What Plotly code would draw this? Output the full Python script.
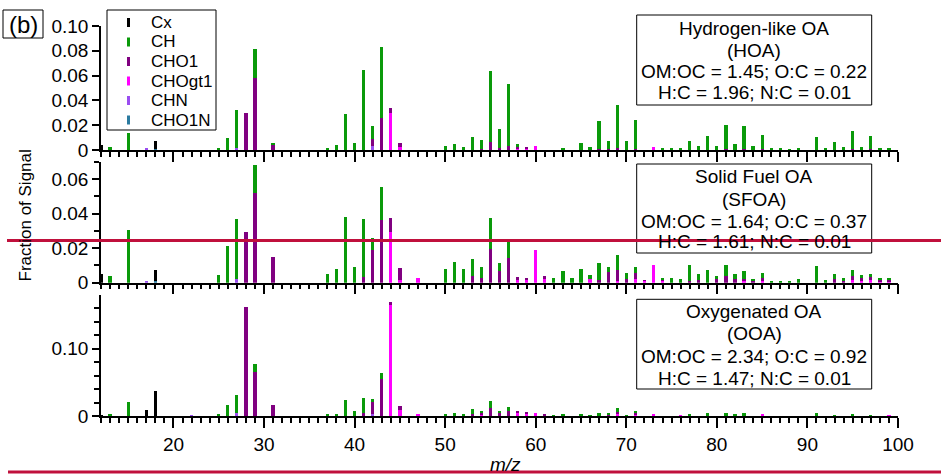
import plotly.graph_objects as go

# ---------------- data ----------------
MZ = list(range(12, 101))
CATEGORIES = ["CHO1N", "CHN", "CHOgt1", "CHO1", "CH", "Cx"]  # stacking order bottom -> top
COLORS = {"Cx": "#000000", "CH": "#0A9A0A", "CHO1": "#800080", "CHOgt1": "#FF00FF",
          "CHN": "#9A4DF0", "CHO1N": "#2B7BA0"}
LEGEND_ORDER = ["Cx", "CH", "CHO1", "CHOgt1", "CHN", "CHO1N"]

# HOA
HOA_Cx = {12: 0.004, 18: 0.0065}
HOA_CH = {13: 0.0025, 15: 0.0135, 25: 0.001, 26: 0.0094, 27: 0.030, 29: 0.0235, 31: 0.002,
          37: 0.0016, 38: 0.004, 39: 0.0288, 40: 0.006, 41: 0.0645, 42: 0.0107, 43: 0.0568,
          50: 0.0035, 51: 0.0048, 52: 0.0025, 53: 0.0105, 54: 0.0075, 55: 0.057, 56: 0.0147,
          57: 0.0497, 58: 0.002, 63: 0.002, 65: 0.0054, 66: 0.0025, 67: 0.0225, 68: 0.0065,
          69: 0.035, 70: 0.0075, 71: 0.023, 74: 0.001, 75: 0.001, 76: 0.001, 77: 0.007,
          78: 0.003, 79: 0.0115, 80: 0.003, 81: 0.019, 82: 0.005, 83: 0.018, 84: 0.003,
          85: 0.0115, 86: 0.001, 87: 0.001, 88: 0.0008, 89: 0.001, 91: 0.0105, 92: 0.002,
          93: 0.0065, 94: 0.0025, 95: 0.015, 96: 0.0025, 97: 0.0108, 98: 0.0017, 99: 0.002}
HOA_CHO1 = {28: 0.030, 29: 0.058, 31: 0.004, 42: 0.0054, 43: 0.026, 44: 0.004, 45: 0.0027,
            54: 0.0008, 55: 0.0067, 56: 0.002, 57: 0.0035, 58: 0.0015, 59: 0.0012, 67: 0.0012,
            68: 0.001, 69: 0.0016, 71: 0.0012, 81: 0.0009, 83: 0.001, 85: 0.0006, 95: 0.0006,
            97: 0.0005}
HOA_CHOgt1 = {44: 0.0296, 45: 0.0027, 58: 0.001, 59: 0.001, 60: 0.003, 73: 0.0027}
HOA_CHN = {17: 0.0012, 27: 0.002, 42: 0.0035}
HOA_CHO1N = {18: 0.0008}

# SFOA
SFOA_Cx = {12: 0.005, 18: 0.0065}
SFOA_CH = {13: 0.0039, 15: 0.0306, 25: 0.0045, 26: 0.0213, 27: 0.0348, 29: 0.0164, 37: 0.0049,
           38: 0.008, 39: 0.0381, 40: 0.0089, 41: 0.0337, 42: 0.0068, 43: 0.019, 50: 0.008,
           51: 0.0122, 52: 0.008, 53: 0.0097, 54: 0.0061, 55: 0.0179, 56: 0.0043, 57: 0.0107,
           62: 0.0025, 63: 0.007, 64: 0.0025, 65: 0.008, 66: 0.0025, 67: 0.0095, 68: 0.0029,
           69: 0.0086, 70: 0.0035, 71: 0.0035, 74: 0.0015, 75: 0.0025, 76: 0.0022, 77: 0.0095,
           78: 0.0035, 79: 0.0075, 80: 0.002, 81: 0.0063, 82: 0.0025, 83: 0.0045, 84: 0.0015,
           85: 0.003, 86: 0.0008, 87: 0.0012, 88: 0.0008, 89: 0.002, 91: 0.0095, 92: 0.0018,
           93: 0.0025, 94: 0.0018, 95: 0.0034, 96: 0.0018, 97: 0.0016, 98: 0.0012, 99: 0.0012}
SFOA_CHO1 = {28: 0.0296, 29: 0.0519, 31: 0.0151, 41: 0.0031, 42: 0.019, 43: 0.0364, 44: 0.0078,
             45: 0.0065, 53: 0.0041, 54: 0.0028, 55: 0.0196, 56: 0.007, 57: 0.0145, 58: 0.0016,
             59: 0.0015, 61: 0.0015, 67: 0.0018, 68: 0.006, 69: 0.0062, 70: 0.0023, 71: 0.0035,
             72: 0.0005, 74: 0.0005, 77: 0.0008, 78: 0.0014, 80: 0.0019, 81: 0.004, 82: 0.0024,
             83: 0.0013, 84: 0.0008, 85: 0.0011, 93: 0.0024, 94: 0.0012, 95: 0.0023, 96: 0.0015,
             97: 0.0018, 98: 0.001, 99: 0.0008}
SFOA_CHOgt1 = {44: 0.0296, 45: 0.0018, 47: 0.0025, 58: 0.0015, 59: 0.0015, 60: 0.019, 61: 0.0024,
               66: 0.002, 69: 0.0012, 71: 0.0023, 72: 0.001, 73: 0.0104, 74: 0.001, 83: 0.001,
               85: 0.0015, 95: 0.0017, 96: 0.0012, 97: 0.0015, 98: 0.0008, 99: 0.0005}
SFOA_CHN = {17: 0.001, 27: 0.002}
SFOA_CHO1N = {18: 0.0008}

# OOA
OOA_Cx = {12: 0.001, 17: 0.0094, 18: 0.0367}
OOA_CH = {13: 0.0034, 15: 0.0209, 25: 0.003, 26: 0.0164, 27: 0.0263, 29: 0.0126, 37: 0.003,
          38: 0.0035, 39: 0.0243, 40: 0.007, 41: 0.0229, 42: 0.005, 43: 0.010, 50: 0.003,
          51: 0.004, 52: 0.003, 53: 0.0079, 54: 0.004, 55: 0.0108, 56: 0.003, 57: 0.0056,
          62: 0.0015, 63: 0.0035, 65: 0.0035, 66: 0.002, 67: 0.0045, 68: 0.002, 69: 0.0055,
          70: 0.002, 71: 0.003, 77: 0.0035, 79: 0.0045, 81: 0.004, 82: 0.0015, 83: 0.0025,
          91: 0.0045, 93: 0.0015, 95: 0.003, 97: 0.0012}
OOA_CHO1 = {28: 0.162, 29: 0.065, 31: 0.0169, 41: 0.004, 42: 0.0167, 43: 0.0542, 44: 0.005,
            45: 0.0064, 53: 0.003, 54: 0.002, 55: 0.012, 56: 0.0045, 57: 0.0078, 58: 0.003,
            59: 0.0015, 61: 0.0015, 68: 0.0025, 69: 0.0025, 71: 0.002, 82: 0.001, 83: 0.0015}
OOA_CHOgt1 = {44: 0.1646, 45: 0.009, 47: 0.003, 54: 0.002, 58: 0.004, 59: 0.0035, 60: 0.005,
              61: 0.0015, 69: 0.004, 71: 0.003, 73: 0.003, 76: 0.0015, 85: 0.003, 99: 0.002}
OOA_CHN = {22: 0.001, 27: 0.005, 42: 0.0037}
OOA_CHO1N = {}

PANELS = [
    {"Cx": HOA_Cx, "CH": HOA_CH, "CHO1": HOA_CHO1, "CHOgt1": HOA_CHOgt1, "CHN": HOA_CHN, "CHO1N": HOA_CHO1N},
    {"Cx": SFOA_Cx, "CH": SFOA_CH, "CHO1": SFOA_CHO1, "CHOgt1": SFOA_CHOgt1, "CHN": SFOA_CHN, "CHO1N": SFOA_CHO1N},
    {"Cx": OOA_Cx, "CH": OOA_CH, "CHO1": OOA_CHO1, "CHOgt1": OOA_CHOgt1, "CHN": OOA_CHN, "CHO1N": OOA_CHO1N},
]
PANEL_TEXT = [
    ["Hydrogen-like OA", "(HOA)", "OM:OC = 1.45; O:C = 0.22", "H:C = 1.96; N:C = 0.01"],
    ["Solid Fuel OA", "(SFOA)", "OM:OC = 1.64; O:C = 0.37", "H:C = 1.61; N:C = 0.01"],
    ["Oxygenated OA", "(OOA)", "OM:OC = 2.34; O:C = 0.92", "H:C = 1.47; N:C = 0.01"],
]
Y_RANGES = [[0, 0.10], [0, 0.07], [0, 0.18]]
Y_TICKVALS = [[0, 0.02, 0.04, 0.06, 0.08, 0.10], [0, 0.02, 0.04, 0.06], [0, 0.10]]
Y_TICKTEXT = [["0", "0.02", "0.04", "0.06", "0.08", "0.10"], ["0", "0.02", "0.04", "0.06"], ["0", "0.10"]]
Y_MINOR = [[], [0.01, 0.03, 0.05, 0.07], [0.02, 0.04, 0.06, 0.08, 0.12, 0.14, 0.16]]
X_TICKVALS = [20, 30, 40, 50, 60, 70, 80, 90, 100]

# ---------------- layout helpers (pixel -> paper) ----------------
W, Hh = 941, 476
L, R, T, Bm = 101, 43, 26, 60
PW, PH = W - L - R, Hh - T - Bm
BOT = Hh - Bm


def px_x(x):
    return (x - L) / PW


def px_y(y):
    return (BOT - y) / PH


FONT = "Liberation Sans, Arial, sans-serif"
domains = [[px_y(150), 1.0], [px_y(282.7), px_y(162)], [0.0, px_y(294.7)]]

fig = go.Figure()
for p, panel in enumerate(PANELS):
    xa = "x" if p == 0 else f"x{p+1}"
    ya = "y" if p == 0 else f"y{p+1}"
    for cat in CATEGORIES:
        vals = [panel[cat].get(m, 0.0) for m in MZ]
        fig.add_trace(go.Bar(x=MZ, y=vals, width=0.36, marker=dict(color=COLORS[cat], line=dict(width=0)),
                             name=cat, showlegend=False, xaxis=xa, yaxis=ya))

axis_common = dict(showline=True, linecolor="black", linewidth=1.5, ticks="outside",
                   tickcolor="black", tickwidth=1.5, showgrid=False, zeroline=False,
                   tickfont=dict(family=FONT, size=19, color="black"))

layout = dict(width=W, height=Hh, margin=dict(l=L, r=R, t=T, b=Bm),
              paper_bgcolor="white", plot_bgcolor="white", barmode="stack",
              font=dict(family=FONT, color="black"), showlegend=False)

for p in range(3):
    xk = "xaxis" if p == 0 else f"xaxis{p+1}"
    yk = "yaxis" if p == 0 else f"yaxis{p+1}"
    ya = "y" if p == 0 else f"y{p+1}"
    xd = dict(axis_common, domain=[0, 1], anchor=ya, range=[12, 100],
              tickmode="array", tickvals=X_TICKVALS, ticklen=10,
              showticklabels=(p == 2),
              minor=dict(ticks="outside", tickmode="linear", tick0=12, dtick=1, ticklen=5,
                         tickwidth=1.5, tickcolor="black"))
    if p != 2:
        xd["matches"] = "x3"
    layout[xk] = xd
    yd = dict(axis_common, domain=domains[p], anchor="x" if p == 0 else f"x{p+1}",
              range=Y_RANGES[p], tickmode="array", tickvals=Y_TICKVALS[p],
              ticktext=Y_TICKTEXT[p], ticklen=7)
    if Y_MINOR[p]:
        yd["minor"] = dict(ticks="outside", tickvals=Y_MINOR[p], ticklen=5, tickwidth=1.5,
                           tickcolor="black")
    layout[yk] = yd

fig.update_layout(**layout)

shapes = []
annotations = []

# legend (box, short vertical line symbols, labels)
shapes.append(dict(type="rect", xref="paper", yref="paper", x0=px_x(107), x1=px_x(216),
                   y0=px_y(130), y1=px_y(10), line=dict(color="black", width=1),
                   fillcolor="white", layer="above"))
leg_y = [22.5, 42, 61.5, 81, 100.5, 120]
for cat, ly in zip(LEGEND_ORDER, leg_y):
    shapes.append(dict(type="line", xref="paper", yref="paper", x0=px_x(128.5), x1=px_x(128.5),
                       y0=px_y(ly + 4.5), y1=px_y(ly - 4.5),
                       line=dict(color=COLORS[cat], width=3), layer="above"))
    annotations.append(dict(text=cat, xref="paper", yref="paper", x=px_x(149), y=px_y(ly),
                            xanchor="left", yanchor="middle", showarrow=False,
                            font=dict(family=FONT, size=17, color="black")))

# panel label boxes and texts
box_px = [(636.7, 15, 871.7, 105), (636.7, 164, 871.7, 253), (636.7, 299.3, 871.7, 389)]
line_px = [[29, 50, 71.7, 93], [176.7, 199, 221.7, 241.7], [311.7, 333, 356.7, 378.3]]
for p in range(3):
    x0, y0, x1, y1 = box_px[p]
    shapes.append(dict(type="rect", xref="paper", yref="paper", x0=px_x(x0), x1=px_x(x1),
                       y0=px_y(y1), y1=px_y(y0), line=dict(color="black", width=1),
                       fillcolor="white", layer="above"))
    for txt, ly in zip(PANEL_TEXT[p], line_px[p]):
        annotations.append(dict(text=txt, xref="paper", yref="paper", x=px_x((x0 + x1) / 2),
                                y=px_y(ly), xanchor="center", yanchor="middle", showarrow=False,
                                font=dict(family=FONT, size=19, color="black")))

# (b) label
shapes.append(dict(type="rect", xref="paper", yref="paper", x0=px_x(3), x1=px_x(43),
                   y0=px_y(38), y1=px_y(10), line=dict(color="black", width=1)))
annotations.append(dict(text="(b)", xref="paper", yref="paper", x=px_x(23), y=px_y(24),
                        xanchor="center", yanchor="middle", showarrow=False,
                        font=dict(family=FONT, size=24, color="black")))
# axis titles
annotations.append(dict(text="Fraction of Signal", xref="paper", yref="paper", x=px_x(25),
                        y=px_y(215.5), xanchor="center", yanchor="middle", textangle=-90,
                        showarrow=False, font=dict(family=FONT, size=17, color="black")))
annotations.append(dict(text="<i>m/z</i>", xref="paper", yref="paper", x=px_x(505),
                        y=px_y(464), xanchor="center", yanchor="middle", showarrow=False,
                        font=dict(family=FONT, size=19, color="black")))
# red horizontal lines
shapes.append(dict(type="line", xref="paper", yref="paper", x0=px_x(7), x1=px_x(941),
                   y0=px_y(240.5), y1=px_y(240.5), line=dict(color="#C0103C", width=3),
                   layer="above"))
shapes.append(dict(type="line", xref="paper", yref="paper", x0=px_x(8), x1=px_x(941),
                   y0=px_y(472), y1=px_y(472), line=dict(color="#C0103C", width=3),
                   layer="above"))

fig.update_layout(shapes=shapes, annotations=annotations)
fig.write_html("out.html")
